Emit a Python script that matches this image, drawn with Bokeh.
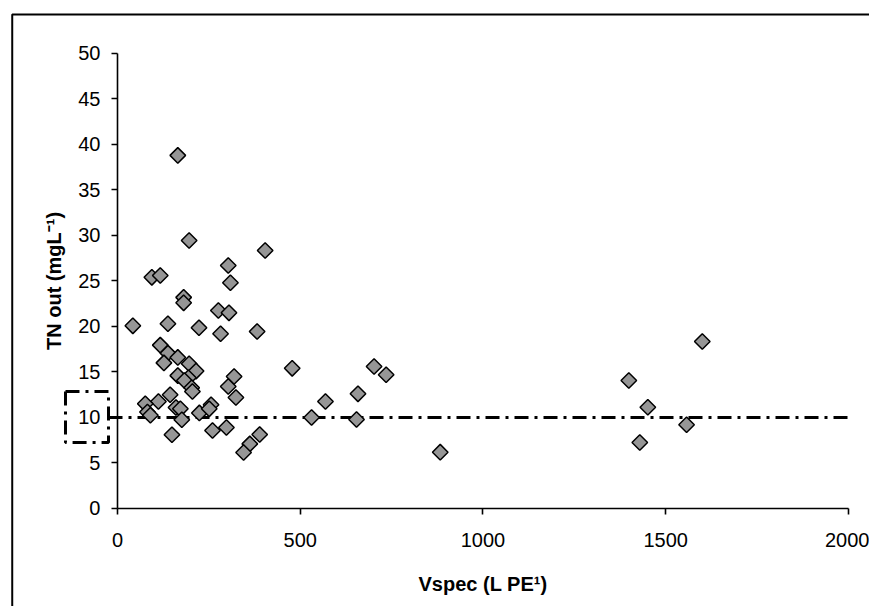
import math
from bokeh.plotting import figure
from bokeh.models import (Range1d, FixedTicker, ColumnDataSource)
from bokeh.embed import file_html
from bokeh.resources import INLINE

# Data
vspec = [165, 196, 404, 303, 309, 94, 117, 181, 181, 276, 305, 42, 138, 223, 282, 382,
         117, 138, 165, 127, 196, 215, 478, 165, 194, 183, 319, 303, 203, 205, 702, 735,
         324, 144, 112, 76, 82, 90, 160, 172, 176, 149, 224, 256, 251, 260, 298, 389,
         362, 345, 531, 569, 658, 654, 883, 1600, 1399, 1451, 1557, 1429]
tn_out = [38.8, 29.45, 28.35, 26.7, 24.8, 25.4, 25.6, 23.2, 22.6, 21.76, 21.5, 20.07, 20.3, 19.86, 19.2, 19.45,
          17.95, 17.07, 16.6, 16.0, 15.9, 15.1, 15.4, 14.6, 14.36, 14.07, 14.5, 13.4, 13.26, 12.86, 15.6, 14.7,
          12.2, 12.5, 11.76, 11.5, 10.6, 10.25, 11.1, 10.95, 9.75, 8.1, 10.5, 11.4, 10.95, 8.57, 8.9, 8.13,
          7.1, 6.15, 10.0, 11.76, 12.6, 9.78, 6.19, 18.35, 14.07, 11.13, 9.2, 7.25]
x_ticks = [0, 500, 1000, 1500, 2000]
y_ticks = [0, 5, 10, 15, 20, 25, 30, 35, 40, 45, 50]
limit_value = 10

FONT = "Liberation Sans"

# The frame covers the whole canvas so that the chart border and the
# dash-dot box in the axis margin can be drawn; the axes sit at x=0 / y=0.
p = figure(width=869, height=606, output_backend="svg", toolbar_location=None,
           x_range=Range1d(-320.1, 2057.5), y_range=Range1d(-10.77, 55.82),
           min_border_left=0, min_border_right=0, min_border_top=0, min_border_bottom=0)
p.outline_line_color = None
p.xgrid.visible = False
p.ygrid.visible = False
p.background_fill_color = "white"
p.border_fill_color = "white"

for ax in (p.xaxis[0], p.yaxis[0]):
    ax.fixed_location = 0
    ax.axis_line_color = "black"
    ax.axis_line_width = 1.6
    ax.major_tick_line_color = "black"
    ax.major_tick_line_width = 1.6
    ax.major_tick_out = 6
    ax.major_tick_in = 0
    ax.minor_tick_line_color = None
    ax.major_label_text_font = FONT
    ax.major_label_text_font_size = "20px"
    ax.major_label_text_color = "black"
    ax.axis_label_text_font = FONT
    ax.axis_label_text_font_style = "bold"
    ax.axis_label_text_font_size = "20px"
    ax.axis_label_text_color = "black"

p.xaxis.bounds = (0, 2000)
p.yaxis.bounds = (0, 50)
p.xaxis.ticker = FixedTicker(ticks=x_ticks)
p.yaxis.ticker = FixedTicker(ticks=y_ticks)
p.xaxis.major_label_standoff = 19
p.yaxis.major_label_standoff = 11
p.xaxis.axis_label = "Vspec (L PE\u00b9)"
p.yaxis.axis_label = "TN out (mgL\u207b\u00b9)"
p.xaxis.axis_label_standoff = 22
p.yaxis.axis_label_standoff = 10

# outer chart border (extends past the right and bottom of the window)
p.quad(left=[-288], right=[2400], top=[54.29], bottom=[-20],
       fill_color=None, line_color="black", line_width=2)

# dash-dot reference line
p.segment(x0=[-24.6], y0=[limit_value], x1=[2000], y1=[limit_value],
          line_color="black", line_width=3, line_dash="14 6 3 6")

# dash-dot box next to the axis
p.quad(left=[-142.3], right=[-24.6], top=[12.86], bottom=[7.25],
       fill_color=None, line_color="black", line_width=3, line_dash="14 6 3 6")

src = ColumnDataSource(dict(x=vspec, y=tn_out))
p.scatter("x", "y", source=src, marker="square", angle=math.pi / 4, size=11,
          fill_color="#969696", line_color="black", line_width=1.5)

open("out.html", "w").write(file_html(p, INLINE))
